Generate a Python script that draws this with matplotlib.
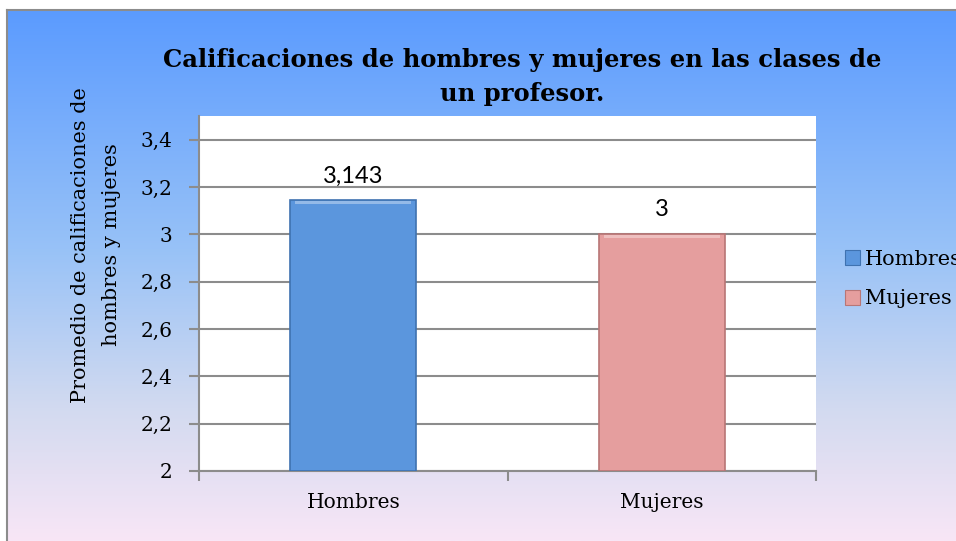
#!/usr/bin/env python3
import numpy as np
import matplotlib
matplotlib.use('Agg')
import matplotlib.pyplot as plt
from matplotlib.colors import LinearSegmentedColormap
from matplotlib.patches import Patch
from matplotlib.ticker import FixedLocator, FuncFormatter

# Data
categories = ['Hombres', 'Mujeres']
promedios = [3.143, 3.0]
etiquetas = ['3,143', '3']
colores = ['#5b96dd', '#e59e9e']
bordes = ['#3f72b0', '#b87676']
y_ticks = [2.0, 2.2, 2.4, 2.6, 2.8, 3.0, 3.2, 3.4]

titulo = 'Calificaciones de hombres y mujeres en las clases de\nun profesor.'
ylabel = 'Promedio de calificaciones de\nhombres y mujeres'

W, H = 956, 541
SERIF = ['DejaVu Serif']

fig = plt.figure(figsize=(W / 100, H / 100), dpi=100)
fig.patch.set_facecolor('white')

# Background panel with vertical gradient
bg = fig.add_axes([7 / W, 0, 1 - 7 / W, 531 / H])
cmap = LinearSegmentedColormap.from_list(
    'fondo', [(0.0, '#5b9bff'), (0.45, '#98c2f7'), (0.75, '#d2daf0'), (1.0, '#f8e6f6')])
grad = np.linspace(0, 1, 256).reshape(-1, 1)
bg.imshow(grad, aspect='auto', cmap=cmap, extent=[0, 1, 0, 1], origin='upper')
bg.set_xlim(0, 1)
bg.set_ylim(0, 1)
bg.set_xticks([])
bg.set_yticks([])
for side in ['right', 'bottom']:
    bg.spines[side].set_visible(False)
for side in ['left', 'top']:
    bg.spines[side].set_color('#8c8c8c')
    bg.spines[side].set_linewidth(1.5)

# Plot area
ax = fig.add_axes([199 / W, 1 - 471 / H, (816 - 199) / W, (471 - 116) / H])
ax.set_facecolor('white')
x = np.arange(len(categories))
bars = ax.bar(x, np.array(promedios) - 2.0, bottom=2.0, width=0.41,
              color=colores, edgecolor=bordes, linewidth=1.2, zorder=3)

# light bevel on top of each bar
for b in bars:
    top = b.get_y() + b.get_height()
    ax.bar(b.get_x() + b.get_width() / 2, 0.012, bottom=top - 0.014,
           width=b.get_width() * 0.92, color='white', alpha=0.35, linewidth=0, zorder=4)

for xi, v, lab in zip(x, promedios, etiquetas):
    ax.annotate(lab, (xi, v), xytext=(0, 10), textcoords='offset points',
                ha='center', va='bottom', fontsize=17, family=['Lato', 'DejaVu Sans'],
                color='black')

ax.set_xlim(-0.5, 1.5)
ax.set_ylim(2.0, 3.5)
ax.yaxis.set_major_locator(FixedLocator(y_ticks))
ax.yaxis.set_major_formatter(FuncFormatter(lambda v, p: ('%g' % round(v, 1)).replace('.', ',')))
ax.grid(axis='y', color='#8c8c8c', linewidth=1.5, zorder=1)
ax.set_xticks(x)
ax.set_xticklabels(categories)
ax.set_xticks([-0.5, 0.5, 1.5], minor=True)
ax.tick_params(axis='x', which='major', length=0, pad=16)
ax.tick_params(axis='x', which='minor', length=7, width=1.5, color='#8c8c8c', direction='out')
ax.tick_params(axis='y', length=7, width=1.5, color='#8c8c8c', direction='out', pad=12)
for lbl in ax.get_xticklabels() + ax.get_yticklabels():
    lbl.set_family(SERIF)
    lbl.set_fontsize(14.5)
for side in ['top', 'right']:
    ax.spines[side].set_visible(False)
for side in ['left', 'bottom']:
    ax.spines[side].set_color('#8c8c8c')
    ax.spines[side].set_linewidth(1.5)

ax.set_ylabel(ylabel, family=SERIF, fontsize=15, linespacing=1.8)
ax.yaxis.set_label_coords(-0.126, 0.637)

fig.text(522 / W, 1 - 48 / H, titulo, ha='center', va='top', family=SERIF,
         fontsize=17.5, fontweight='bold', linespacing=1.55, multialignment='center')

# Legend outside the plot area, clipped at the right edge like the original
handles = [Patch(facecolor=c, edgecolor=e, linewidth=0.8) for c, e in zip(colores, bordes)]
fig.legend(handles, categories, loc='center left', bbox_to_anchor=(826 / W, 1 - 279 / H),
           frameon=False, prop={'family': SERIF, 'size': 15},
           handlelength=0.75, handleheight=0.75, handletextpad=0.2, labelspacing=1.0)

fig.savefig('out.png', dpi=100)
